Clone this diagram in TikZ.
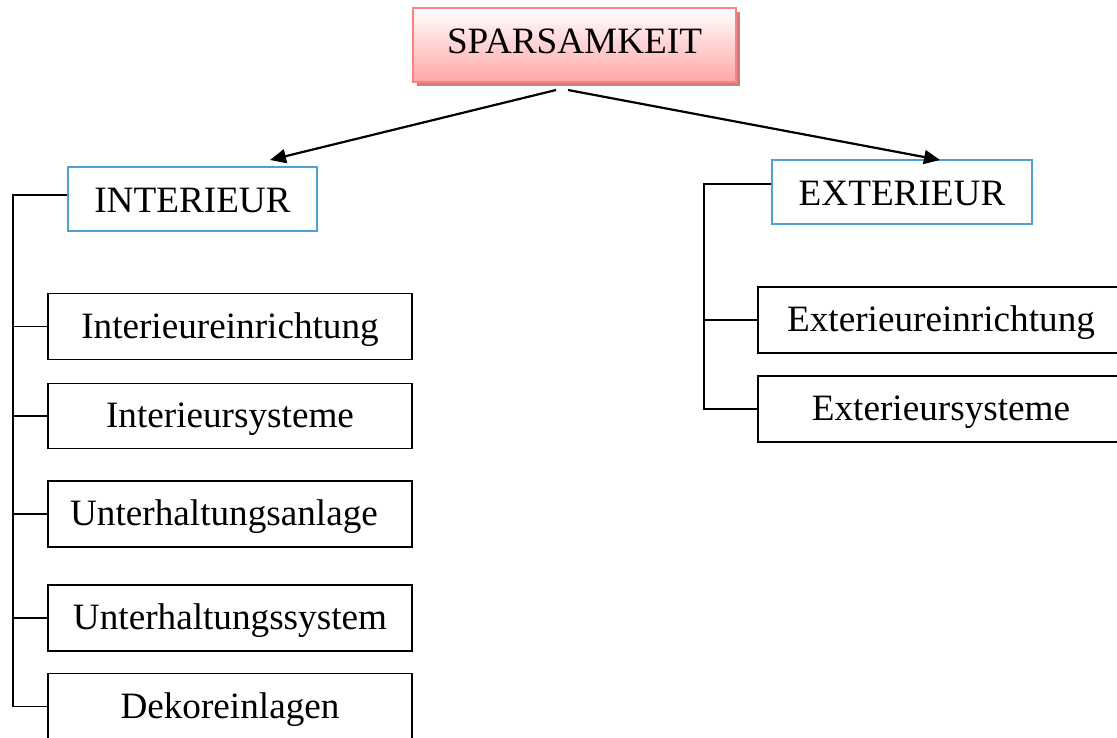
\documentclass[tikz,border=0pt]{standalone}
\usepackage{fontspec}
\setmainfont{Liberation Serif}
\usetikzlibrary{arrows.meta,shadows}
\definecolor{rootborder}{RGB}{255,128,128}
\definecolor{rootfill}{RGB}{255,165,165}
\definecolor{rootshadow}{RGB}{200,128,128}
\definecolor{catborder}{RGB}{80,160,208}
\tikzset{
  txt/.style={font=\fontsize{37.2}{40}\selectfont, inner sep=0pt, align=center},
  rootbox/.style={txt, text height=25pt, text depth=9pt, draw=rootborder, line width=2.4pt,
    top color=white, bottom color=rootfill,
    drop shadow={shadow xshift=4pt, shadow yshift=-4pt, fill=rootshadow, opacity=1}},
  catbox/.style={txt, text height=28pt, text depth=2pt, draw=catborder, line width=2pt, fill=white},
  itembox/.style={txt, text height=25pt, text depth=2pt, draw=black, line width=1.6pt, fill=white},
  conn/.style={draw=black, line width=1.6pt},
  arr/.style={draw=black, line width=2.2pt, -{Triangle[length=16pt,width=14pt]}}
}
\begin{document}
\begin{tikzpicture}[x=1pt,y=-1pt]
\useasboundingbox (0,0) rectangle (1117,737);

% root
\node[rootbox, minimum width=323pt, minimum height=74pt] (sp) at (574.5,45) {SPARSAMKEIT};

% categories
\node[catbox, minimum width=249pt, minimum height=64pt] (int) at (192.5,199) {INTERIEUR};
\node[catbox, minimum width=260pt, minimum height=64pt] (ext) at (902,192) {EXTERIEUR};

% interior items
\node[itembox, minimum width=364pt, minimum height=66pt] (i1) at (230,326.5) {Interieureinrichtung};
\node[itembox, minimum width=364pt, minimum height=65pt] (i2) at (230,416) {Interieursysteme};
\node[itembox, minimum width=364pt, minimum height=66pt] (i3) at (230,514) {Unterhaltungsanlage\hspace{12pt}};
\node[itembox, minimum width=364pt, minimum height=66pt] (i4) at (230,618) {Unterhaltungssystem};
\node[itembox, minimum width=364pt, minimum height=66pt] (i5) at (230,706.5) {Dekoreinlagen};

% exterior items
\node[itembox, minimum width=366pt, minimum height=66pt] (e1) at (941,320) {Exterieureinrichtung};
\node[itembox, minimum width=366pt, minimum height=66pt] (e2) at (941,409) {Exterieursysteme};

% arrows from the root
\coordinate (sL) at (556,90);
\coordinate (sR) at (568,90);
\coordinate (intTop) at (270,160);
\coordinate (extTop) at (940,160);
\draw[arr] (sL) -- (intTop);
\draw[arr] (sR) -- (extTop);

% interior tree
\coordinate (tl) at (13,0);
\draw[conn] ([yshift=4pt]int.west) -| (tl |- i5.west) -- (i5.west);
\foreach \b in {i1,i2,i3,i4}
  \draw[conn] (tl |- \b.west) -- (\b.west);

% exterior tree
\coordinate (tr) at (704,0);
\draw[conn] ([yshift=8pt]ext.west) -| (tr |- e2.west) -- (e2.west);
\draw[conn] (tr |- e1.west) -- (e1.west);
\end{tikzpicture}
\end{document}
